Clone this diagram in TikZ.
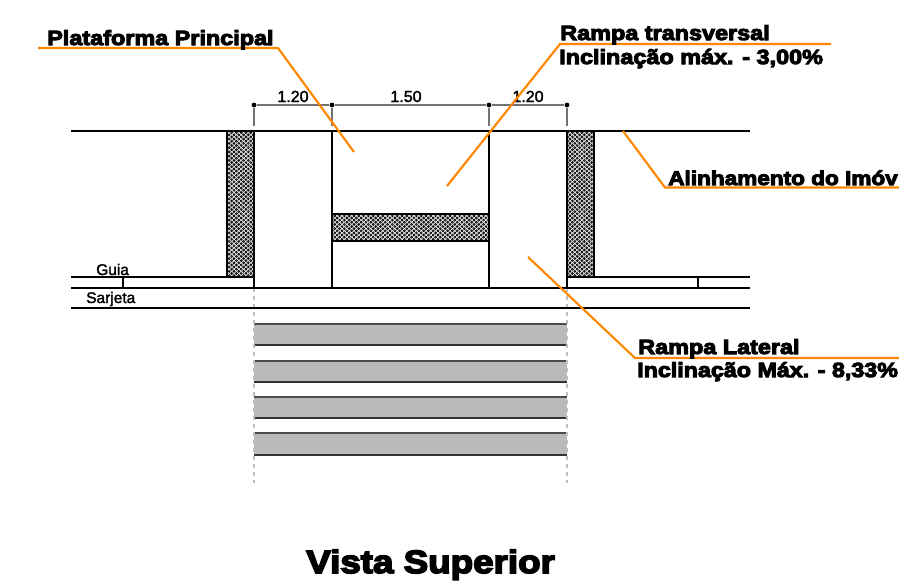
\documentclass[tikz,border=0pt]{standalone}
\usepackage{fontspec}
\setmainfont{Liberation Sans}
\newfontfamily\calloutfont[FakeBold=5,FakeStretch=1.14]{Liberation Sans Bold}
\newfontfamily\plainfont[FakeBold=2]{Liberation Sans}
\usetikzlibrary{patterns,positioning}
\definecolor{leaderorange}{RGB}{255,135,0}
\definecolor{stripegray}{RGB}{186,186,186}
\pgfdeclarepatternformonly{pavedots}{\pgfqpoint{-0.1pt}{-0.1pt}}{\pgfqpoint{3.7pt}{3.3pt}}{\pgfqpoint{3.6pt}{3.2pt}}{
    \pgfsetlinewidth{0.5pt}
    \pgfpathcircle{\pgfqpoint{0.9pt}{0.8pt}}{0.75pt}
    \pgfpathcircle{\pgfqpoint{2.7pt}{2.4pt}}{0.75pt}
    \pgfusepath{stroke}
}

\begin{document}
\begin{tikzpicture}[x=0.75pt, y=-0.75pt,
    wall/.style={draw=black, line width=0.8pt},
    paved/.style={draw=black, line width=0.8pt, fill=gray!25, postaction={pattern=pavedots}},
    leader/.style={draw=leaderorange, line width=1.6pt},
    callout/.style={inner sep=0pt, anchor=base west, font=\calloutfont\fontsize{15.4}{16}\selectfont},
    dimtext/.style={inner sep=0pt, anchor=base, font=\plainfont\fontsize{12}{13}\selectfont},
    guidetext/.style={inner sep=0pt, anchor=base west, font=\plainfont\fontsize{11.6}{12}\selectfont},
    dimline/.style={draw=black!55, line width=0.9pt},
    dimdot/.style={circle, fill=black, inner sep=0pt, minimum size=3.6pt}]
    \useasboundingbox (0,0) rectangle (899,586);

    % Crossing stripes
    \foreach \ya/\yb in {324/345, 361/382, 397/418, 433/455} {
        \fill[stripegray] (254,\ya) rectangle (567,\yb);
        \draw[wall, black!70] (254,\ya) -- (567,\ya);
        \draw[wall, black!80] (254,\yb) -- (567,\yb);
    }
    \draw[draw=black!25, line width=1pt, dashed] (254,288) -- (254,483);
    \draw[draw=black!25, line width=1pt, dashed] (567,288) -- (567,483);

    % Paved areas
    \path[paved] (227,131) rectangle (254,277);
    \path[paved] (567,131) rectangle (594,277);
    \path[paved] (332,214) rectangle (489,241);

    % Street lines
    \draw[wall] (71,131) -- (750,131);
    \draw[wall] (71,277) -- (254,277);
    \draw[wall] (567,277) -- (750,277);
    \draw[wall] (71,288) -- (750,288);
    \draw[wall] (71,308) -- (750,308);
    \draw[wall] (123,277) -- (123,288);
    \draw[wall] (698,277) -- (698,288);
    \foreach \xa in {254, 332, 489, 567} {
        \draw[wall] (\xa,131) -- (\xa,288);
    }

    % Dimension line
    \node[dimdot] (dimA) at (254,105) {};
    \node[dimdot] (dimB) at (332,105) {};
    \node[dimdot] (dimC) at (489,105) {};
    \node[dimdot] (dimD) at (567,105) {};
    \draw[dimline] (dimA) -- (dimB) -- (dimC) -- (dimD);
    \foreach \nm in {dimA, dimB, dimC, dimD} {
        \draw[dimline] (\nm.south) -- ++(0,18);
    }
    \node[dimtext] (lenA) at (293,102) {1.20};
    \node[dimtext] (lenB) at (406,102) {1.50};
    \node[dimtext] (lenC) at (528,102) {1.20};

    % Leaders
    \coordinate (platA) at (38,48);
    \coordinate (platB) at (278,48);
    \coordinate (platC) at (354,152);
    \coordinate (transA) at (831,44);
    \coordinate (transB) at (560,44);
    \coordinate (transC) at (447,186);
    \coordinate (alinA) at (899,187.5);
    \coordinate (alinB) at (665,187.5);
    \coordinate (alinC) at (623,131);
    \coordinate (latA) at (899,358);
    \coordinate (latB) at (635,358);
    \coordinate (latC) at (528,257);
    \draw[leader] (platA) -- (platB) -- (platC);
    \draw[leader] (transA) -- (transB) -- (transC);
    \draw[leader] (alinA) -- (alinB) -- (alinC);
    \draw[leader] (latA) -- (latB) -- (latC);

    % Labels
    \node[callout] (plat) at (47,45) {Plataforma Principal};
    \node[callout] (trans) at (560,40) {Rampa transversal};
    \node[callout] (transinc) at (559,64) {Inclinação máx. - 3,00\%};
    \node[callout, font=\calloutfont\fontsize{14.85}{16}\selectfont] (alin) at (668,185) {Alinhamento do Imóv};
    \node[callout] (lat) at (638,354) {Rampa Lateral};
    \node[callout, font=\calloutfont\fontsize{15.3}{16}\selectfont] (latinc) at (637,377) {Inclinação Máx. - 8,33\%};
    \node[guidetext] (guia) at (96,275) {Guia};
    \node[guidetext] (sarjeta) at (86,303) {Sarjeta};
    \node[callout, font=\calloutfont\fontsize{24.2}{26}\selectfont] (vista) at (306,573) {Vista Superior};
\end{tikzpicture}
\end{document}
